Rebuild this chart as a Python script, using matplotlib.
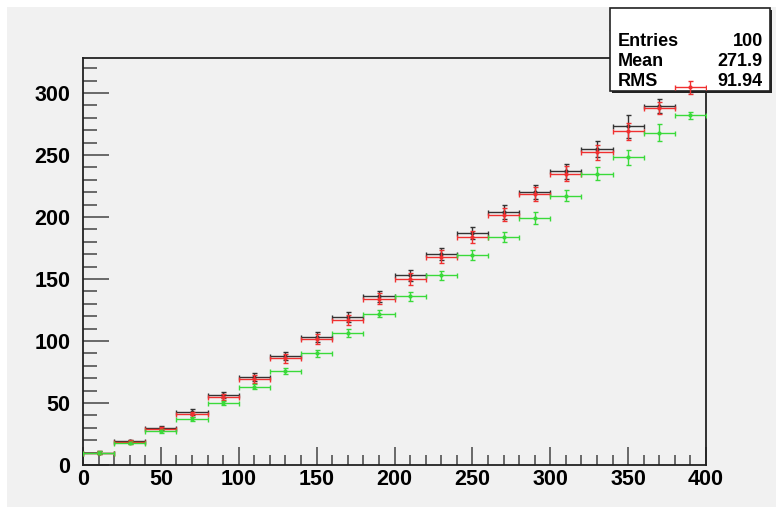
import numpy as np
import matplotlib
matplotlib.use("Agg")
import matplotlib.pyplot as plt
from matplotlib.patches import Rectangle
from matplotlib.ticker import MultipleLocator

plt.rcParams['font.family'] = ['Liberation Sans', 'DejaVu Sans']
plt.rcParams['font.weight'] = 'bold'

# ================= DATA ===================
bin_edges = np.arange(0, 420, 20)
bin_centers = (bin_edges[:-1] + bin_edges[1:]) / 2

black_vals = [10, 19, 30, 42.5, 56.5, 71, 88, 103, 119, 136,
              153, 170, 187, 204, 220, 237, 255, 273, 289.5, 307]
black_errs = [1, 1.5, 1.5, 2.5, 2.5, 3, 3.5, 4, 4, 4.5,
              4.5, 5, 5, 5.5, 5.5, 6, 6.5, 9, 5.5, 6]

red_vals = [10, 18.5, 29, 41, 55, 69.5, 86, 101.5, 117, 134,
            150, 168, 184, 202, 218.5, 235, 252, 269, 288, 304.5]
red_errs = [1, 1.5, 1.5, 2, 2.5, 3, 3.5, 4, 4, 4.5,
            4.5, 5, 5, 5, 5.5, 6, 6, 7, 5, 5.5]

green_vals = [10, 18, 27.5, 37, 50, 63, 76, 90, 106.5, 122,
              136, 153, 169, 184, 199, 217, 235, 248, 268, 282]
green_errs = [1, 1, 1.5, 1.5, 2, 2, 2.5, 3, 3, 3,
              3.5, 3.5, 4, 4, 5, 4.5, 5.5, 6, 7, 3]

stats_labels = ["Entries", "Mean", "RMS"]
stats_values = ["100", "271.9", "91.94"]

# ================= FIGURE ===================
W, H = 776, 511
fig = plt.figure(figsize=(W / 100, H / 100), dpi=100)
fig.patch.set_facecolor("white")
bg = "#f1f1f1"
fig.patches.append(Rectangle((7 / W, 0.008), 1, 1 - 7 / H - 0.008,
                             transform=fig.transFigure, facecolor=bg,
                             edgecolor="none", zorder=0))

pos = [83 / W, 1 - 465 / H, (706 - 83) / W, (465 - 58) / H]
ax = fig.add_axes(pos, zorder=1)
ax.set_facecolor(bg)
ax.set_xlim(0, 400)
ax.set_ylim(0, 328.2)

for side in ax.spines.values():
    side.set_color("#222222")
    side.set_linewidth(1.3)

ax.xaxis.set_major_locator(MultipleLocator(50))
ax.xaxis.set_minor_locator(MultipleLocator(10))
ax.yaxis.set_major_locator(MultipleLocator(50))
ax.yaxis.set_minor_locator(MultipleLocator(10))
ax.tick_params(which="both", direction="in", top=False, right=False,
               color="#444444", width=1.1, labelsize=15.5)
ax.tick_params(axis="x", which="major", length=13, pad=3)
ax.tick_params(axis="x", which="minor", length=7)
ax.tick_params(axis="y", which="major", length=19, pad=9)
ax.tick_params(axis="y", which="minor", length=10)
for lab in ax.get_xticklabels() + ax.get_yticklabels():
    lab.set_fontweight("bold")


def draw_hist(axis, vals, errs, color):
    axis.errorbar(bin_centers, vals, xerr=10, yerr=errs, fmt="o",
                  markersize=2, color=color, ecolor=color,
                  elinewidth=1.0, capsize=1.8, capthick=1.0)


draw_hist(ax, black_vals, black_errs, "#333333")

# ===== STATS BOX =====
bx0, by0, bx1, by1 = 610 / W, 1 - 91 / H, 770 / W, 1 - 8 / H
fig.patches.append(Rectangle((bx0 + 2 / W, by0 - 2 / H), bx1 - bx0, by1 - by0,
                             transform=fig.transFigure, facecolor="#222222",
                             edgecolor="none", zorder=2))
fig.patches.append(Rectangle((bx0, by0), bx1 - bx0, by1 - by0,
                             transform=fig.transFigure, facecolor="white",
                             edgecolor="#222222", linewidth=1.2, zorder=2))
fig.lines.append(plt.Line2D([bx0, bx1], [1 - 30 / H, 1 - 30 / H],
                            transform=fig.transFigure, color="#222222",
                            linewidth=1.0, zorder=2))
for i, (lab, val) in enumerate(zip(stats_labels, stats_values)):
    yy = 1 - (42 + 20 * i) / H
    fig.text(618 / W, yy, lab, ha="left", va="center", fontsize=13,
             fontweight="bold", zorder=2.5)
    fig.text(763 / W, yy, val, ha="right", va="center", fontsize=13,
             fontweight="bold", zorder=2.5)

# ===== RED / GREEN ON TOP =====
ax2 = fig.add_axes(pos, zorder=3, sharex=ax, sharey=ax)
ax2.patch.set_visible(False)
ax2.axis("off")
draw_hist(ax2, red_vals, red_errs, "#f03030")
draw_hist(ax2, green_vals, green_errs, "#3ada3a")

fig.savefig("out.png", dpi=100, facecolor=fig.get_facecolor())
